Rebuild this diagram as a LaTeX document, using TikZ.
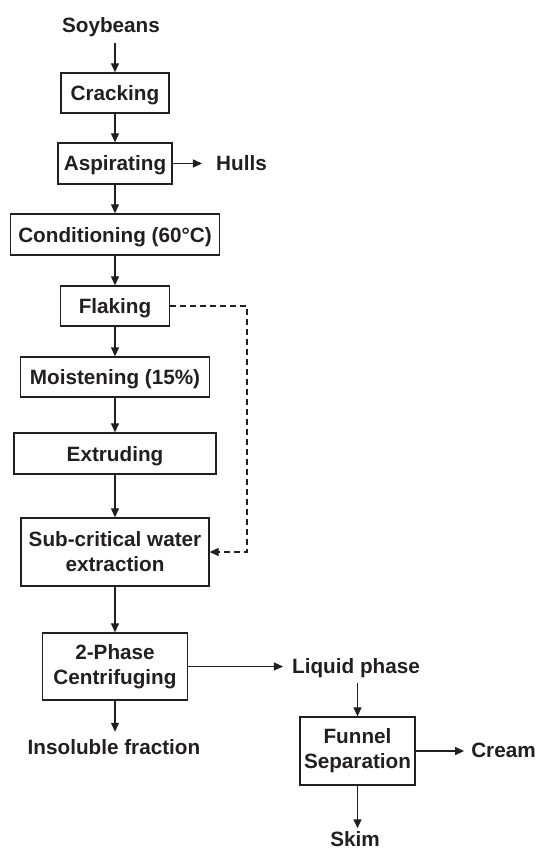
\documentclass[tikz,border=0pt]{standalone}
\usepackage{fontspec}
\setmainfont{Liberation Sans}
\usetikzlibrary{arrows.meta,calc}
\definecolor{ink}{HTML}{231F20}
\begin{document}
\begin{tikzpicture}[x=1pt,y=-1pt,
  every node/.style={font=\fontsize{20.7}{25}\selectfont\bfseries, text=ink},
  box/.style={draw=ink, line width=1.3pt, inner sep=0pt, text height=15pt, text depth=0pt},
  tbox/.style={draw=ink, line width=1.3pt, inner sep=0pt, align=center},
  lab/.style={inner sep=0pt, text height=15pt, text depth=0pt},
  flow/.style={draw=ink, line width=1.2pt, -{Triangle[length=9pt,width=8pt]}},
  dflow/.style={flow, dash pattern=on 6pt off 4pt}
]
\useasboundingbox (0,0) rectangle (537,850);

\node[lab] (soy) at (111,25.5) {Soybeans};
\node[box,minimum width=108,minimum height=40] (crack) at (115,93) {Cracking};
\node[box,minimum width=114,minimum height=41] (asp) at (115,163.5) {Aspirating};
\node[lab] (hulls) at (241.5,163) {Hulls};
\node[box,minimum width=209,minimum height=41] (cond) at (115,234.5) {Conditioning (60°C)};
\node[box,minimum width=109,minimum height=40] (flak) at (115,306) {Flaking};
\node[box,minimum width=189,minimum height=40] (moist) at (115,377) {Moistening (15\%)};
\node[box,minimum width=202,minimum height=41] (extr) at (115,453.5) {Extruding};
\node[tbox,minimum width=188,minimum height=68] (sub) at (115,552) {Sub-critical water\\extraction};
\node[tbox,minimum width=145,minimum height=67] (cent) at (115,666.5) {2-Phase\\Centrifuging};
\node[lab] (liq) at (356,665.5) {Liquid phase};
\node[lab] (insol) at (114,746.5) {Insoluble fraction};
\node[tbox,minimum width=115,minimum height=68] (fun) at (357.5,751) {Funnel\\Separation};
\node[lab] (cream) at (503.5,750) {Cream};
\node[lab] (skim) at (355,839) {Skim};
\coordinate (dx) at (247,0);

\draw[flow, shorten <=10pt] (crack.north |- soy.south) -- (crack.north);
\draw[flow] (crack) -- (asp);
\draw[flow, shorten >=14pt] (asp.east) -- (asp.east -| hulls.west);
\draw[flow] (asp) -- (cond);
\draw[flow] (cond) -- (flak);
\draw[flow] (flak) -- (moist);
\draw[flow] (moist) -- (extr);
\draw[flow] (extr) -- (sub);
\draw[flow] (sub) -- (cent);
\draw[flow, shorten >=9pt] (cent.east) -- (cent.east -| liq.west);
\draw[flow, shorten >=7pt] (cent.south) -- (cent.south |- insol.north);
\draw[flow, shorten <=10pt] (fun.north |- liq.south) -- (fun.north);
\draw[flow, shorten >=7pt] (fun.east) -- (fun.east -| cream.west);
\draw[flow, shorten >=3pt] (fun.south) -- (fun.south |- skim.north);
\draw[dflow] (flak.east) -- (flak.east -| dx) |- (sub.east);
\end{tikzpicture}
\end{document}
